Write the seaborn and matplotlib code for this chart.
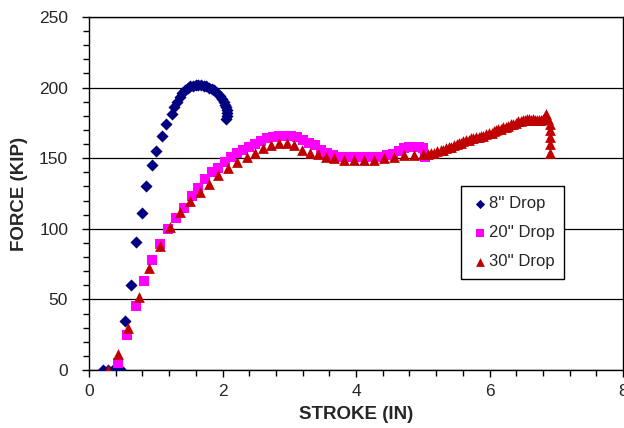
import matplotlib
matplotlib.use("Agg")
import matplotlib.pyplot as plt
import seaborn as sns
import pandas as pd
from matplotlib.ticker import MultipleLocator

# ---- data ----
x8 = [0.21, 0.28, 0.36, 0.43, 0.46, 0.54, 0.63, 0.70, 0.79, 0.85,
      0.94, 1.01, 1.10, 1.16, 1.24, 1.28, 1.32, 1.36, 1.40, 1.44,
      1.48, 1.52, 1.56, 1.60, 1.64, 1.68, 1.72, 1.76, 1.80, 1.84,
      1.88, 1.92, 1.96, 1.99, 2.02, 2.04, 2.05, 2.06, 2.06, 2.06, 2.05]
f8 = [0, 0, 0, 0, 1, 35, 60, 91, 111, 130,
      145, 155, 166, 174, 181, 186, 190, 193, 196, 198,
      200, 201, 201, 202, 202, 202, 201, 201, 200, 199,
      198, 196, 194, 192, 190, 188, 186, 184, 182, 180, 178]

x20 = [0.43, 0.57, 0.70, 0.82, 0.94, 1.07, 1.19, 1.31, 1.43, 1.54,
       1.64, 1.74, 1.84, 1.94, 2.04, 2.13, 2.22, 2.31, 2.40, 2.49,
       2.58, 2.67, 2.76, 2.85, 2.94, 3.03, 3.12, 3.21, 3.30, 3.39,
       3.48, 3.57, 3.66, 3.76, 3.86, 3.96, 4.06, 4.16, 4.26, 4.36,
       4.46, 4.56, 4.64, 4.72, 4.80, 4.88, 4.95, 5.01, 5.03]
f20 = [5, 25, 45, 63, 78, 89, 100, 108, 115, 123,
       129, 135, 140, 143, 147, 151, 154, 156, 158, 160,
       162, 164, 165, 166, 166, 166, 165, 163, 161, 159,
       156, 154, 152, 151, 151, 151, 151, 151, 151, 151,
       152, 153, 155, 157, 158, 158, 158, 157, 151]

x30 = [0.28, 0.43, 0.58, 0.75, 0.90, 1.06, 1.21, 1.37, 1.52, 1.66,
       1.80, 1.94, 2.08, 2.22, 2.36, 2.48, 2.60, 2.72, 2.84, 2.96,
       3.07, 3.19, 3.31, 3.43, 3.55, 3.67, 3.82, 3.97, 4.12, 4.27,
       4.42, 4.57, 4.72, 4.87, 5.01, 5.08, 5.12, 5.17, 5.22, 5.27,
       5.31, 5.35, 5.39, 5.43, 5.47, 5.51, 5.54, 5.58, 5.61, 5.65,
       5.69, 5.72, 5.76, 5.80, 5.84, 5.88, 5.91, 5.95, 5.99, 6.03,
       6.06, 6.10, 6.13, 6.17, 6.20, 6.24, 6.28, 6.32, 6.35, 6.39,
       6.43, 6.47, 6.50, 6.53, 6.56, 6.59, 6.62, 6.65, 6.68, 6.71,
       6.74, 6.77, 6.80, 6.83, 6.85, 6.88, 6.91, 6.91, 6.91, 6.91,
       6.91]
f30 = [0, 11, 30, 52, 72, 88, 101, 112, 120, 126,
       132, 138, 143, 147, 151, 154, 157, 159, 161, 161,
       159, 156, 154, 153, 151, 150, 149, 149, 149, 149,
       150, 151, 152, 152, 153, 153, 154, 154, 155, 156,
       156, 157, 158, 158, 159, 160, 161, 161, 162, 163,
       163, 164, 164, 165, 165, 166, 166, 167, 168, 168,
       169, 170, 171, 171, 172, 172, 173, 174, 174, 175,
       176, 176, 177, 177, 178, 178, 177, 178, 177, 177,
       177, 177, 178, 180, 181, 178, 174, 170, 165, 160,
       154]

series = ["8'' Drop", "20'' Drop", "30'' Drop"]

df = pd.concat([
    pd.DataFrame({"x": x8, "f": f8, "s": series[0]}),
    pd.DataFrame({"x": x20, "f": f20, "s": series[1]}),
    pd.DataFrame({"x": x30, "f": f30, "s": series[2]}),
], ignore_index=True)

sns.set_style("white")
plt.rcParams["font.family"] = ["Liberation Sans", "DejaVu Sans"]

fig = plt.figure(figsize=(6.24, 4.28), dpi=100)
ax = fig.add_axes([89/624, 58/428, 534/624, 353/428])

colors = {series[0]: "#000080", series[1]: "#FF00FF", series[2]: "#C00000"}
markers = {series[0]: "D", series[1]: "s", series[2]: "^"}
sizes = {series[0]: 38, series[1]: 55, series[2]: 60}

for s in series:
    sub = df[df["s"] == s]
    sns.scatterplot(data=sub, x="x", y="f", color=colors[s], marker=markers[s],
                    s=sizes[s], linewidth=0, ax=ax, label=s, zorder=3)

ax.set_xlim(0, 8)
ax.set_ylim(0, 250)
ax.xaxis.set_major_locator(MultipleLocator(2))
ax.xaxis.set_minor_locator(MultipleLocator(0.4))
ax.yaxis.set_major_locator(MultipleLocator(50))
ax.yaxis.set_minor_locator(MultipleLocator(10))
ax.tick_params(axis="both", which="both", direction="out", color="black",
               bottom=True, left=True)
ax.tick_params(axis="both", which="major", length=5, width=1, labelsize=12.5)
ax.tick_params(axis="y", which="major", pad=10)
ax.tick_params(axis="x", which="major", pad=5)
ax.tick_params(axis="both", which="minor", length=4, width=1)
ax.yaxis.grid(True, which="major", color="black", linewidth=0.9)
ax.set_axisbelow(True)
for sp in ax.spines.values():
    sp.set_color("black")
    sp.set_linewidth(1)

ax.set_xlabel("STROKE (IN)", fontsize=13.5, fontweight="bold", labelpad=5)
ax.set_ylabel("FORCE (KIP)", fontsize=13.5, fontweight="bold", labelpad=8)

leg = ax.legend(loc="upper left", bbox_to_anchor=(0.697, 0.521), fontsize=12,
                frameon=True, fancybox=False, framealpha=1, edgecolor="black",
                handletextpad=0.05, borderpad=0.6, labelspacing=0.85,
                handlelength=1.0, borderaxespad=0)
leg.get_frame().set_linewidth(1)
for h, sz in zip(leg.legend_handles, [22, 40, 40]):
    h.set_sizes([sz])

fig.savefig("out.png", dpi=100)
